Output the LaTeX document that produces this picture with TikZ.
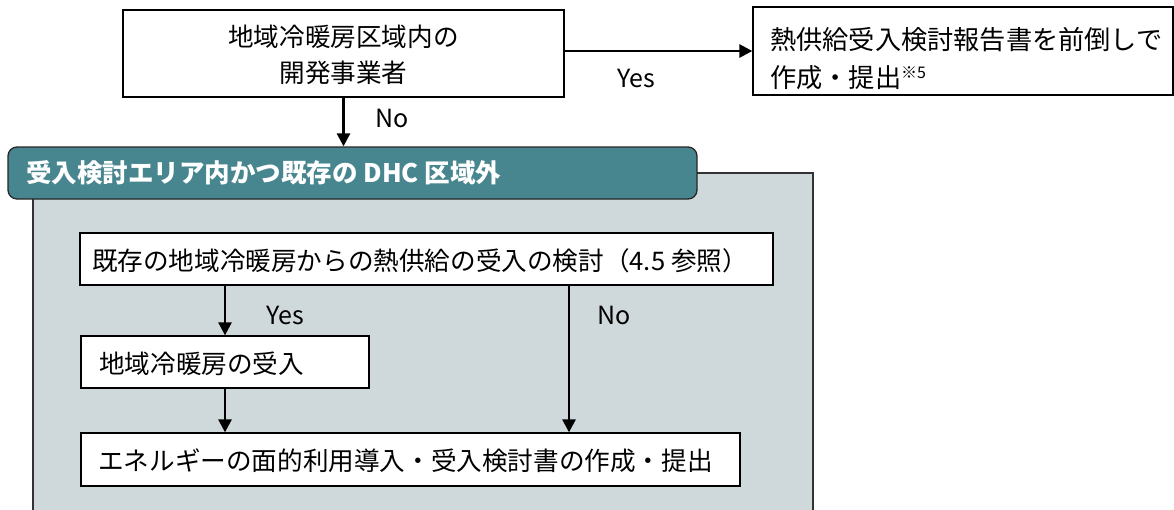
\documentclass[tikz,border=0pt]{standalone}
\usepackage{fontspec}
\setmainfont{Noto Sans CJK JP}
\usetikzlibrary{arrows.meta}
\definecolor{teal1}{HTML}{48868F}
\definecolor{panelgray}{HTML}{CFD9DC}
\definecolor{paneledge}{HTML}{333333}
\tikzset{
  box/.style={draw=black, line width=1.3pt, fill=white, inner sep=0pt},
  lbl/.style={inner sep=0pt, font=\fontsize{25}{28}\selectfont},
  arr/.style={line width=2.7pt, -{Triangle[length=13pt,width=13pt]}},
  txt/.style={inner sep=0pt, font=\fontsize{25.6}{36}\selectfont}
}
\begin{document}
\begin{tikzpicture}[x=1pt,y=-1pt]
\useasboundingbox (0,0) rectangle (1174,509);
% panel
\node[draw=paneledge, line width=1.3pt, fill=panelgray, minimum width=780pt, minimum height=340pt, inner sep=0pt] (panel) at (423,343) {};
% header
\node[draw=black!85, line width=1.3pt, fill=teal1, rounded corners=9pt, minimum width=689pt, minimum height=52pt, inner sep=0pt] (header) at (352.5,173) {};
\node[anchor=west, inner sep=0pt, text=white, font=\fontsize{25.5}{28}\selectfont\bfseries] (headertxt) at (26,173) {受入検討エリア内かつ既存の DHC 区域外};
% top box
\node[box, minimum width=441pt, minimum height=87pt] (top) at (343.5,53.5) {};
\node[txt, align=center] (toptxt) at (343.5,55) {地域冷暖房区域内の\\開発事業者};
% right box
\node[box, minimum width=420pt, minimum height=88pt] (right) at (963,51) {};
\node[txt, anchor=west, align=left, font=\fontsize{26.2}{38}\selectfont] (righttxt) at (770,59) {熱供給受入検討報告書を前倒しで\\作成・提出\raisebox{9pt}{\fontsize{16}{16}\selectfont ※5}};
% inner boxes
\node[box, minimum width=693pt, minimum height=52pt] (b1) at (426.5,259) {};
\node[txt] (b1txt) at (420,261) {既存の地域冷暖房からの熱供給の受入の検討（4.5 参照）};
\node[box, minimum width=288pt, minimum height=52pt] (b2) at (225,362) {};
\node[txt, anchor=west] (b2txt) at (99,364) {地域冷暖房の受入};
\node[box, minimum width=659pt, minimum height=53pt] (b3) at (410.5,459.5) {};
\node[txt, anchor=west] (b3txt) at (98,461) {エネルギーの面的利用導入・受入検討書の作成・提出};
\coordinate (nx) at (569,0);
% arrows
\draw[arr] (top.east |- right.west) -- (right.west);
\draw[arr] (top.south) -- (top.south |- header.north);
\draw[arr] (b1.south -| b2.north) -- (b2.north);
\draw[arr] (b2.south) -- (b2.south |- b3.north);
\draw[arr] (b1.south -| nx) -- (b3.north -| nx);
% labels
\node[lbl] (yes1) at (636,78) {Yes};
\node[lbl] (no1) at (392,118) {No};
\node[lbl] (yes2) at (285,315) {Yes};
\node[lbl] (no2) at (614,315) {No};
\end{tikzpicture}
\end{document}
